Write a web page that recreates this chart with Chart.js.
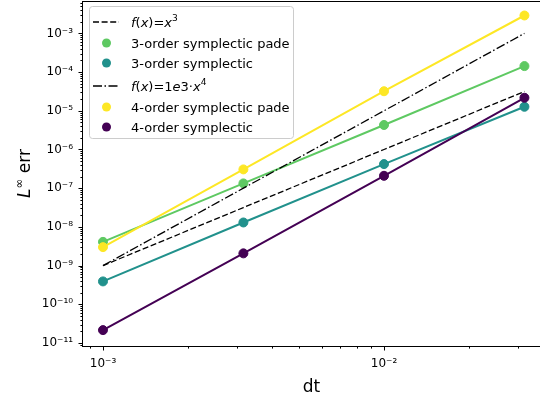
<!DOCTYPE html>
<html>
<head>
<meta charset="utf-8">
<title>Error vs dt</title>
<script src="https://cdn.jsdelivr.net/npm/chart.js@4.4.1/dist/chart.umd.min.js"></script>
<style>
  html, body { margin: 0; padding: 0; background: #ffffff; }
  #wrap { width: 540px; height: 401px; position: relative; }
</style>
</head>
<body>
<div id="wrap"><canvas id="errChart"></canvas></div>
<script>
// values
const dtValues = [1e-3, 3.16e-3, 1e-2, 3.16e-2];
const refCubic = [1e-9, 3.16e-8, 1e-6, 3.16e-5];
const refQuartic = [1e-9, 1e-7, 1e-5, 1e-3];
const sym3Pade = [4.1e-9, 1.33e-7, 4.3e-6, 1.43e-4];
const sym3 = [3.9e-10, 1.3e-8, 4.2e-7, 1.27e-5];
const sym4Pade = [3.0e-9, 3.06e-7, 3.2e-5, 2.9e-3];
const sym4 = [2.15e-11, 2.07e-9, 2.09e-7, 2.17e-5];

const xMajorTicks = [1e-3, 1e-2];
const xTickLabels = ["10⁻³", "10⁻²"];
const yMajorTicks = [1e-11, 1e-10, 1e-9, 1e-8, 1e-7, 1e-6, 1e-5, 1e-4, 1e-3];
const yTickLabels = ["10⁻¹¹", "10⁻¹⁰", "10⁻⁹", "10⁻⁸", "10⁻⁷", "10⁻⁶", "10⁻⁵", "10⁻⁴", "10⁻³"];

const FONT = "'DejaVu Sans', sans-serif";
Chart.defaults.font.family = FONT;
Chart.defaults.color = "#000";

// plot frame in canvas pixels
const AREA = { left: 83, top: 1, right: 540, bottom: 346 };

function isMajor(v) {
  const l = Math.log10(v);
  return Math.abs(l - Math.round(l)) < 1e-6;
}

// ticks at 1..9 x 10^n inside the axis range
function logTicks(min, max) {
  const ticks = [];
  for (let e = Math.floor(Math.log10(min)); e <= Math.ceil(Math.log10(max)); e++) {
    for (let m = 1; m < 10; m++) {
      const v = m * Math.pow(10, e);
      if (v >= min && v <= max) ticks.push({ value: v, major: m === 1 });
    }
  }
  return ticks;
}

function labelFor(value, majors, labels) {
  const i = majors.findIndex((m) => Math.abs(Math.log10(m) - Math.log10(value)) < 1e-6);
  return i >= 0 ? labels[i] : "";
}

function toPoints(ys) {
  return dtValues.map((x, i) => ({ x: x, y: ys[i] }));
}

function drawRich(ctx, runs, x, y, size) {
  runs.forEach((r) => {
    const fs = r.sup ? size * 0.7 : size;
    ctx.font = (r.it ? "italic " : "") + fs + "px " + FONT;
    ctx.fillText(r.t, x, r.sup ? y - size * 0.42 : y);
    x += ctx.measureText(r.t).width;
  });
  return x;
}

function richWidth(ctx, runs, size) {
  let w = 0;
  runs.forEach((r) => {
    const fs = r.sup ? size * 0.7 : size;
    ctx.font = (r.it ? "italic " : "") + fs + "px " + FONT;
    w += ctx.measureText(r.t).width;
  });
  return w;
}

const datasets = [
  {
    label: "f(x) = x^3",
    data: toPoints(refCubic),
    borderColor: "#000",
    borderWidth: 1.3,
    borderDash: [6, 2.6],
    pointRadius: 0,
    handle: "line",
    runs: [{ t: "f", it: 1 }, { t: "(" }, { t: "x", it: 1 }, { t: ")=" }, { t: "x", it: 1 }, { t: "3", sup: 1 }],
  },
  {
    label: "3-order symplectic pade",
    data: toPoints(sym3Pade),
    borderColor: "#5ec962",
    backgroundColor: "#5ec962",
    handle: "dot",
    runs: [{ t: "3-order symplectic pade" }],
  },
  {
    label: "3-order symplectic",
    data: toPoints(sym3),
    borderColor: "#21918c",
    backgroundColor: "#21918c",
    handle: "dot",
    runs: [{ t: "3-order symplectic" }],
  },
  {
    label: "f(x) = 1e3 x^4",
    data: toPoints(refQuartic),
    borderColor: "#000",
    borderWidth: 1.3,
    borderDash: [9, 2.5, 1.5, 2.5],
    pointRadius: 0,
    handle: "line",
    runs: [{ t: "f", it: 1 }, { t: "(" }, { t: "x", it: 1 }, { t: ")=1" }, { t: "e", it: 1 }, { t: "3·" }, { t: "x", it: 1 }, { t: "4", sup: 1 }],
  },
  {
    label: "4-order symplectic pade",
    data: toPoints(sym4Pade),
    borderColor: "#fde725",
    backgroundColor: "#fde725",
    handle: "dot",
    runs: [{ t: "4-order symplectic pade" }],
  },
  {
    label: "4-order symplectic",
    data: toPoints(sym4),
    borderColor: "#440154",
    backgroundColor: "#440154",
    handle: "dot",
    runs: [{ t: "4-order symplectic" }],
  },
];

datasets.forEach((ds, i) => {
  ds.order = datasets.length - i; // later series on top, like matplotlib
  if (ds.pointRadius === undefined) {
    ds.borderWidth = 2;
    ds.pointRadius = 4.5;
    ds.pointHoverRadius = 4.5;
    ds.pointBorderWidth = 1;
    ds.pointBorderColor = ds.borderColor;
    ds.pointBackgroundColor = ds.borderColor;
  }
});

const framePlugin = {
  id: "frame",
  // pin the plot area to the reference frame
  afterLayout(chart) {
    const a = chart.chartArea;
    Object.assign(a, AREA);
    a.width = a.right - a.left;
    a.height = a.bottom - a.top;
    const xs = chart.scales.x;
    const ys = chart.scales.y;
    xs.left = AREA.left;
    xs.right = AREA.right;
    xs.width = a.width;
    xs.top = AREA.bottom;
    xs.configure();
    ys.top = AREA.top;
    ys.bottom = AREA.bottom;
    ys.height = a.height;
    ys.right = AREA.left;
    ys.configure();
  },
  afterDraw(chart) {
    const ctx = chart.ctx;
    const a = chart.chartArea;
    ctx.save();
    ctx.strokeStyle = "#000";
    ctx.lineWidth = 1;

    // spines
    ctx.strokeRect(Math.round(a.left) - 0.5, Math.round(a.top) + 0.5, a.right - a.left + 2, a.bottom - a.top);

    // tick marks
    const xs = chart.scales.x;
    xs.ticks.forEach((t) => {
      const p = Math.round(xs.getPixelForValue(t.value)) + 0.5;
      const len = isMajor(t.value) ? 4.5 : 2.6;
      ctx.beginPath();
      ctx.moveTo(p, a.bottom);
      ctx.lineTo(p, a.bottom + len);
      ctx.stroke();
    });
    const ys = chart.scales.y;
    ys.ticks.forEach((t) => {
      const p = Math.round(ys.getPixelForValue(t.value)) + 0.5;
      const len = isMajor(t.value) ? 4.5 : 2.6;
      ctx.beginPath();
      ctx.moveTo(a.left, p);
      ctx.lineTo(a.left - len, p);
      ctx.stroke();
    });

    // axis titles
    ctx.fillStyle = "#000";
    ctx.textBaseline = "alphabetic";
    ctx.textAlign = "left";
    ctx.font = "17px " + FONT;
    const dtW = ctx.measureText("dt").width;
    ctx.fillText("dt", (a.left + a.right) / 2 - dtW / 2, 392);

    const yRuns = [{ t: "L", it: 1 }, { t: "∞", sup: 1 }, { t: " err" }];
    ctx.save();
    ctx.translate(30, (a.top + a.bottom) / 2);
    ctx.rotate(-Math.PI / 2);
    drawRich(ctx, yRuns, -richWidth(ctx, yRuns, 17) / 2, 0, 17);
    ctx.restore();

    // legend
    const box = { x: 89.5, y: 6.5, w: 204, h: 132 };
    const rowY = [22, 43, 63, 86, 107, 127];
    ctx.beginPath();
    ctx.roundRect(box.x, box.y, box.w, box.h, 3);
    ctx.fillStyle = "rgba(255,255,255,0.8)";
    ctx.fill();
    ctx.strokeStyle = "#cccccc";
    ctx.stroke();

    chart.data.datasets.forEach((ds, i) => {
      const y = rowY[i];
      if (ds.handle === "line") {
        ctx.strokeStyle = ds.borderColor;
        ctx.lineWidth = ds.borderWidth;
        ctx.setLineDash(ds.borderDash);
        ctx.beginPath();
        ctx.moveTo(93, y);
        ctx.lineTo(119, y);
        ctx.stroke();
        ctx.setLineDash([]);
      } else {
        ctx.fillStyle = ds.borderColor;
        ctx.beginPath();
        ctx.arc(106.5, y, 4.5, 0, Math.PI * 2);
        ctx.fill();
      }
      ctx.fillStyle = "#000";
      drawRich(ctx, ds.runs, 131, y + 4.7, 13);
    });
    ctx.restore();
  },
};

document.addEventListener("DOMContentLoaded", () => {
  const ctx = document.getElementById("errChart").getContext("2d");
  new Chart(ctx, {
    type: "line",
    data: { datasets: datasets },
    options: {
      responsive: true,
      maintainAspectRatio: false,
      animation: false,
      layout: { autoPadding: false, padding: { top: 1, right: 0, left: 0, bottom: 0 } },
      plugins: {
        legend: { display: false },
        tooltip: { enabled: false },
      },
      scales: {
        x: {
          type: "logarithmic",
          min: 8.49e-4,
          max: 3.59e-2,
          grid: { display: false, drawTicks: false },
          border: { display: false },
          afterBuildTicks: (scale) => {
            scale.ticks = logTicks(scale.min, scale.max);
          },
          afterFit: (scale) => {
            scale.height = 55;
          },
          ticks: {
            autoSkip: false,
            maxRotation: 0,
            minRotation: 0,
            padding: 11,
            color: "#000",
            font: { size: 12 },
            callback: (value) => labelFor(value, xMajorTicks, xTickLabels),
          },
        },
        y: {
          type: "logarithmic",
          min: 8.36e-12,
          max: 6.87e-3,
          grid: { display: false, drawTicks: false },
          border: { display: false },
          afterBuildTicks: (scale) => {
            scale.ticks = logTicks(scale.min, scale.max);
          },
          afterFit: (scale) => {
            scale.width = 83;
          },
          ticks: {
            autoSkip: false,
            padding: 10,
            color: "#000",
            font: { size: 12 },
            callback: (value) => labelFor(value, yMajorTicks, yTickLabels),
          },
        },
      },
    },
    plugins: [framePlugin],
  });
});
</script>
</body>
</html>
